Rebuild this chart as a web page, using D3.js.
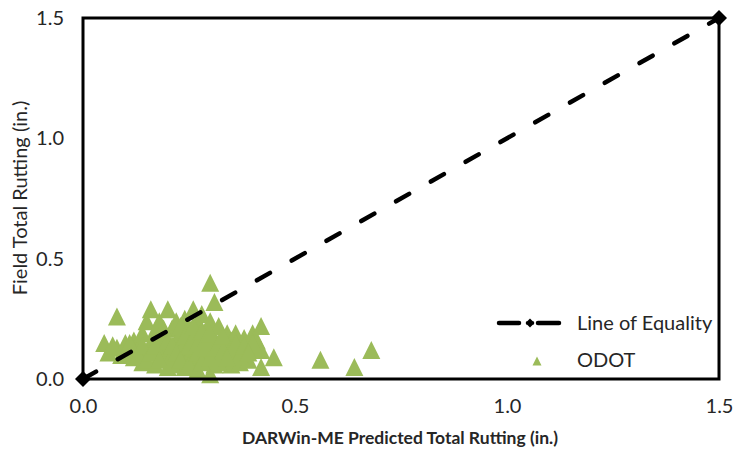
<!DOCTYPE html>
<html>
<head>
<meta charset="utf-8">
<script src="https://cdn.jsdelivr.net/npm/d3@7/dist/d3.min.js"></script>
<style>
  html, body { margin: 0; padding: 0; background: #fff; }
  svg { display: block; font-family: Lato, "Open Sans", sans-serif; }
</style>
</head>
<body>
<svg id="chart" width="736" height="452"></svg>
<script>
// Predicted vs. field total rutting for the ODOT sections (inches)
const predicted = [
  0.05, 0.06, 0.08, 0.08, 0.09, 0.10, 0.11, 0.12, 0.12, 0.13,
  0.14, 0.14, 0.15, 0.15, 0.16, 0.16, 0.17, 0.17, 0.18, 0.18,
  0.19, 0.19, 0.20, 0.20, 0.20, 0.21, 0.21, 0.22, 0.22, 0.22,
  0.23, 0.23, 0.24, 0.24, 0.24, 0.25, 0.25, 0.26, 0.26, 0.26,
  0.27, 0.27, 0.27, 0.28, 0.28, 0.28, 0.29, 0.29, 0.30, 0.30,
  0.30, 0.30, 0.31, 0.31, 0.31, 0.32, 0.32, 0.33, 0.33, 0.34,
  0.34, 0.35, 0.35, 0.36, 0.36, 0.37, 0.37, 0.38, 0.38, 0.39,
  0.39, 0.40, 0.40, 0.41, 0.42, 0.42, 0.42, 0.45, 0.56, 0.64,
  0.68,
  0.07, 0.10, 0.11, 0.13, 0.14, 0.15, 0.16, 0.17, 0.18, 0.18,
  0.19, 0.20, 0.21, 0.21, 0.22, 0.23, 0.23, 0.24, 0.25, 0.25,
  0.26, 0.26, 0.27, 0.27, 0.28, 0.28, 0.29, 0.29, 0.30, 0.30,
  0.31, 0.32, 0.32, 0.33, 0.33, 0.35, 0.36, 0.37, 0.38, 0.40,
  0.39, 0.34
];
const field = [
  0.15, 0.11, 0.26, 0.13, 0.10, 0.15, 0.12, 0.16, 0.09, 0.13,
  0.19, 0.07, 0.11, 0.24, 0.29, 0.15, 0.06, 0.20, 0.12, 0.24,
  0.09, 0.17, 0.29, 0.05, 0.13, 0.21, 0.10, 0.16, 0.24, 0.07,
  0.12, 0.19, 0.25, 0.05, 0.15, 0.10, 0.21, 0.29, 0.13, 0.07,
  0.18, 0.24, 0.04, 0.11, 0.27, 0.15, 0.20, 0.08, 0.40, 0.02,
  0.13, 0.24, 0.32, 0.17, 0.06, 0.22, 0.11, 0.15, 0.08, 0.19,
  0.12, 0.06, 0.16, 0.19, 0.10, 0.13, 0.07, 0.17, 0.11, 0.14,
  0.08, 0.19, 0.12, 0.16, 0.22, 0.05, 0.12, 0.09, 0.08, 0.05,
  0.12,
  0.14, 0.11, 0.15, 0.10, 0.14, 0.08, 0.11, 0.14, 0.08, 0.18,
  0.21, 0.16, 0.14, 0.06, 0.11, 0.08, 0.22, 0.18, 0.14, 0.06,
  0.17, 0.22, 0.11, 0.15, 0.07, 0.20, 0.13, 0.17, 0.09, 0.19,
  0.13, 0.15, 0.07, 0.12, 0.18, 0.13, 0.15, 0.10, 0.14, 0.15,
  0.11, 0.09
];
// Line of equality endpoints
const equality = [0, 1.5];
const xTicks = [0, 0.5, 1.0, 1.5];
const yTicks = [0, 0.5, 1.0, 1.5];

const svg = d3.select("#chart");
const margin = { left: 83, right: 17, top: 18, bottom: 73 };
const W = 736, H = 452;

const x = d3.scaleLinear().domain([0, 1.5]).range([margin.left, W - margin.right]);
const y = d3.scaleLinear().domain([0, 1.5]).range([H - margin.bottom, margin.top]);

const textColor = "#262626";
const green = "#9BBB59";

// Marker shapes: upright triangle and square diamond, sized by half-extent
const triangleType = {
  draw(ctx, size) {
    const r = Math.sqrt(size) / 2;
    ctx.moveTo(0, -r);
    ctx.lineTo(r, r);
    ctx.lineTo(-r, r);
    ctx.closePath();
  }
};
const diamondType = {
  draw(ctx, size) {
    const r = Math.sqrt(size) / 2;
    ctx.moveTo(0, -r);
    ctx.lineTo(r, 0);
    ctx.lineTo(0, r);
    ctx.lineTo(-r, 0);
    ctx.closePath();
  }
};

// Scatter points (ODOT)
svg.append("g")
  .selectAll("path")
  .data(predicted.map((p, i) => [p, field[i]]))
  .join("path")
  .attr("d", d3.symbol().type(triangleType).size(18 * 18))
  .attr("transform", d => `translate(${x(d[0])},${y(d[1])})`)
  .attr("fill", green);

// Line of equality (dashed)
svg.append("line")
  .attr("x1", x(equality[0])).attr("y1", y(equality[0]))
  .attr("x2", x(equality[1])).attr("y2", y(equality[1]))
  .attr("stroke", "#000")
  .attr("stroke-width", 4.5)
  .attr("stroke-linecap", "round")
  .attr("stroke-dasharray", "15,25");

// Plot frame
svg.append("rect")
  .attr("x", x(0)).attr("y", y(1.5))
  .attr("width", x(1.5) - x(0)).attr("height", y(0) - y(1.5))
  .attr("fill", "none").attr("stroke", "#000").attr("stroke-width", 3);

// Diamond markers at the ends of the equality line
svg.append("g")
  .selectAll("path")
  .data(equality)
  .join("path")
  .attr("d", d3.symbol().type(diamondType).size(16 * 16))
  .attr("transform", d => `translate(${x(d)},${y(d)})`)
  .attr("fill", "#000");

// Axes (labels only, no tick marks)
const xAxis = d3.axisBottom(x).tickValues(xTicks).tickFormat(d3.format(".1f")).tickSize(0).tickPadding(0);
const gx = svg.append("g").attr("transform", `translate(0,${H - margin.bottom + 20})`).call(xAxis);
gx.select(".domain").remove();
gx.selectAll("text").attr("font-size", 20).attr("fill", textColor).attr("font-family", "Lato, sans-serif");

const yAxis = d3.axisLeft(y).tickValues(yTicks).tickFormat(d3.format(".1f")).tickSize(0).tickPadding(0);
const gy = svg.append("g").attr("transform", `translate(${margin.left - 19},0)`).call(yAxis);
gy.select(".domain").remove();
gy.selectAll("text").attr("font-size", 20).attr("fill", textColor).attr("font-family", "Lato, sans-serif");

// Axis titles
svg.append("text")
  .attr("x", 400).attr("y", 444)
  .attr("text-anchor", "middle")
  .attr("font-size", 17.5).attr("font-weight", "bold")
  .attr("fill", textColor)
  .text("DARWin-ME Predicted Total Rutting (in.)");

svg.append("text")
  .attr("transform", "translate(27,198) rotate(-90)")
  .attr("text-anchor", "middle")
  .attr("font-size", 20)
  .attr("fill", textColor)
  .text("Field Total Rutting (in.)");

// Legend
const lg = svg.append("g");
lg.append("line").attr("x1", 499).attr("x2", 519).attr("y1", 323).attr("y2", 323)
  .attr("stroke", "#000").attr("stroke-width", 4.5).attr("stroke-linecap", "round");
lg.append("line").attr("x1", 538).attr("x2", 559).attr("y1", 323).attr("y2", 323)
  .attr("stroke", "#000").attr("stroke-width", 4.5).attr("stroke-linecap", "round");
lg.append("line").attr("x1", 526).attr("x2", 534).attr("y1", 323).attr("y2", 323)
  .attr("stroke", "#000").attr("stroke-width", 3);
lg.append("path").attr("d", d3.symbol().type(diamondType).size(9 * 9))
  .attr("transform", "translate(530,323)").attr("fill", "#000");
lg.append("text").attr("x", 577).attr("y", 330).attr("font-size", 20).attr("fill", textColor)
  .text("Line of Equality");
lg.append("path").attr("d", d3.symbol().type(triangleType).size(9 * 9))
  .attr("transform", "translate(537,361)").attr("fill", green);
lg.append("text").attr("x", 577).attr("y", 367).attr("font-size", 20).attr("fill", textColor)
  .text("ODOT");
</script>
</body>
</html>
